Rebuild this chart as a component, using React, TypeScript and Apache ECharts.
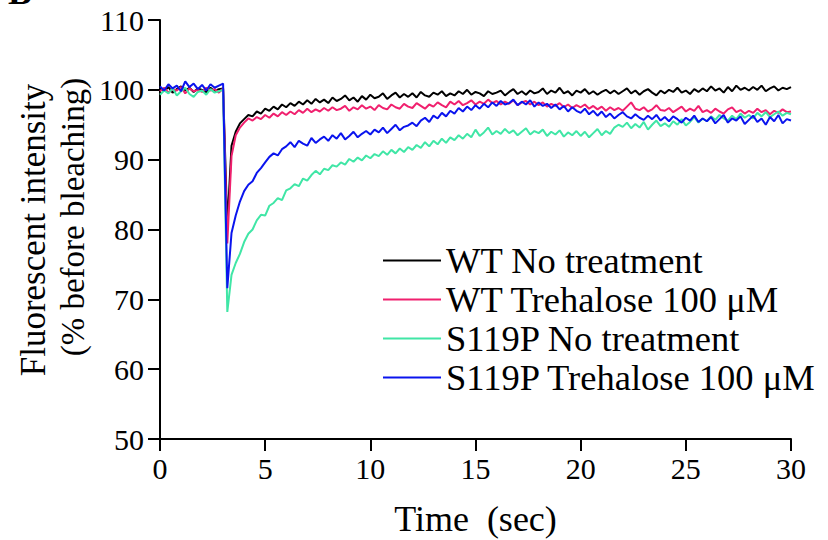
import React, { useEffect, useRef } from "react";
import * as echarts from "echarts";

const times = [
  0, 0.2, 0.4, 0.6, 0.8, 1, 1.2, 1.4, 1.6, 1.8,
  2, 2.2, 2.4, 2.6, 2.8, 3, 3.2, 3.4, 3.6, 3.8,
  4, 4.2, 4.4, 4.6, 4.8, 5, 5.2, 5.4, 5.6, 5.8,
  6, 6.2, 6.4, 6.6, 6.8, 7, 7.2, 7.4, 7.6, 7.8,
  8, 8.2, 8.4, 8.6, 8.8, 9, 9.2, 9.4, 9.6, 9.8,
  10, 10.2, 10.4, 10.6, 10.8, 11, 11.2, 11.4, 11.6, 11.8,
  12, 12.2, 12.4, 12.6, 12.8, 13, 13.2, 13.4, 13.6, 13.8,
  14, 14.2, 14.4, 14.6, 14.8, 15, 15.2, 15.4, 15.6, 15.8,
  16, 16.2, 16.4, 16.6, 16.8, 17, 17.2, 17.4, 17.6, 17.8,
  18, 18.2, 18.4, 18.6, 18.8, 19, 19.2, 19.4, 19.6, 19.8,
  20, 20.2, 20.4, 20.6, 20.8, 21, 21.2, 21.4, 21.6, 21.8,
  22, 22.2, 22.4, 22.6, 22.8, 23, 23.2, 23.4, 23.6, 23.8,
  24, 24.2, 24.4, 24.6, 24.8, 25, 25.2, 25.4, 25.6, 25.8,
  26, 26.2, 26.4, 26.6, 26.8, 27, 27.2, 27.4, 27.6, 27.8,
  28, 28.2, 28.4, 28.6, 28.8, 29, 29.2, 29.4, 29.6, 29.8, 30,
];

const wtNoTreatment = [
  100.2, 99.8, 100.4, 99.6, 100.1, 100.5, 99.9, 100.3, 99.7, 100.2,
  100.0, 99.6, 100.3, 99.8, 100.1, 100.2, 80.5, 92.0, 94.0, 95.2,
  95.8, 96.4, 96.2, 96.9, 96.6, 97.3, 97.0, 97.6, 97.2, 97.9,
  97.5, 98.1, 97.7, 98.3, 97.9, 98.5, 98.0, 98.7, 98.2, 98.6,
  98.1, 98.9, 98.4, 98.7, 99.2, 98.5, 98.9, 98.3, 99.1, 98.6,
  99.3, 98.8, 99.0, 99.5, 98.7, 99.2, 99.6, 98.9, 99.4, 99.0,
  99.5, 98.9, 99.7, 99.2, 99.0, 99.6, 99.3, 99.8, 99.1, 99.5,
  99.2, 99.8, 99.4, 100.0, 99.3, 99.7, 99.5, 99.1, 99.8, 99.4,
  99.6, 99.9, 99.2, 99.7, 100.1, 99.4, 99.8, 99.3, 99.9, 99.5,
  99.7, 100.2, 99.4, 99.9, 99.6, 100.3, 99.5, 99.8, 99.2, 99.9,
  99.6, 100.1, 99.4, 99.8, 99.3, 99.7, 100.0, 99.5, 99.9, 99.4,
  99.8, 100.2, 99.5, 99.9, 99.3, 99.8, 100.1, 99.6, 99.2, 99.9,
  99.5, 100.0, 99.7, 100.3, 99.6, 99.9, 99.4, 100.1, 99.7, 100.2,
  99.8, 100.5, 99.9, 100.2, 99.6, 100.4, 99.8, 100.6, 100.0, 100.3,
  99.9, 100.4, 100.0, 100.6, 99.8, 100.2, 100.5, 99.9, 100.3, 100.1, 100.4,
];

const wtTrehalose = [
  99.8, 100.3, 99.6, 100.1, 99.9, 100.4, 99.5, 100.2, 99.8, 100.0,
  99.7, 100.3, 99.9, 100.1, 99.6, 100.2, 78.0, 90.5, 93.5, 94.6,
  95.3, 95.9, 95.6, 96.1, 95.8, 96.4, 96.0, 96.6, 96.2, 96.8,
  96.4, 96.9, 96.5, 97.1, 96.7, 97.3, 96.8, 97.2, 96.9, 97.4,
  97.0, 97.5, 97.1, 97.3, 97.7, 97.0, 97.5, 97.2, 97.8, 97.3,
  97.6, 97.1, 97.8, 97.4, 97.2, 97.9, 97.5, 97.3, 98.0, 97.6,
  97.4, 98.1, 97.7, 97.3, 97.9, 97.6, 98.2, 97.8, 97.5, 98.3,
  97.9, 98.4, 97.8, 98.1, 98.5, 97.9, 98.3, 98.0, 98.6, 98.1,
  98.4, 97.9, 98.3, 98.0, 98.5, 97.8, 98.2, 98.4, 97.9, 98.3,
  97.8, 98.2, 97.6, 98.0, 97.7, 98.1, 97.5, 97.9, 97.4, 97.8,
  97.5, 97.9, 97.3, 97.7, 97.2, 97.6, 97.0, 97.5, 97.1, 97.4,
  97.0, 97.6, 98.2, 97.3, 97.1, 97.5, 96.9, 97.2, 97.8, 97.1,
  97.0, 97.4, 96.8, 97.2, 97.6, 96.9, 97.3, 97.0, 97.7, 96.8,
  97.1, 96.7, 97.3, 96.9, 96.6, 97.2, 97.5, 96.8, 97.1, 96.6,
  97.0, 96.7, 97.3, 96.8, 97.1, 96.5, 97.0, 96.7, 97.2, 96.8, 96.9,
];

const s119pNoTreatment = [
  99.3, 99.9, 99.5, 100.2, 99.2, 99.8, 100.3, 99.4, 99.0, 99.7,
  99.9, 99.3, 100.1, 99.6, 99.8, 100.0, 68.2, 73.5, 75.2, 76.5,
  78.2, 79.4, 80.0, 81.3, 82.1, 82.0, 83.4, 83.8, 84.5, 84.2,
  85.6, 85.9, 86.5, 86.2, 87.3, 87.0, 87.8, 88.4, 87.9, 88.7,
  88.5, 89.2, 89.0, 89.6, 89.3, 90.1, 89.7, 90.3, 89.9, 90.6,
  90.2, 90.8, 90.5, 91.2, 90.7, 91.4, 90.9, 91.6, 91.1, 91.8,
  91.4, 92.1, 91.7, 92.5, 91.9, 92.7, 92.2, 93.0, 92.4, 93.2,
  92.8, 93.5, 93.0, 93.7, 93.2, 94.3, 93.4, 93.9, 94.6, 93.6,
  94.1, 93.7, 94.4, 93.8, 94.2, 93.5, 94.0, 94.5, 93.6, 94.1,
  93.8, 94.3, 93.4, 94.0, 93.6, 94.2, 93.3, 93.9, 93.5, 94.1,
  93.4, 94.0, 93.2, 93.8, 94.4, 93.5, 94.1, 93.7, 94.6, 95.0,
  94.7, 95.3, 94.5, 95.1, 94.6, 95.4, 94.3, 95.0, 95.6, 94.8,
  95.2, 94.7, 95.5, 95.0, 95.8, 94.9, 95.4, 96.1, 95.3, 95.9,
  95.5, 96.2, 95.7, 96.4, 95.9, 95.6, 96.3, 95.8, 96.6, 96.0,
  96.4, 95.9, 96.7, 96.2, 96.8, 96.1, 96.5, 96.9, 96.3, 96.7, 96.5,
];

const s119pTrehalose = [
  100.5, 99.9, 100.8, 100.2, 100.6, 99.8, 101.2, 100.4, 100.9, 100.1,
  100.7, 99.9, 100.8, 100.3, 100.6, 100.9, 71.6, 79.5, 82.0, 84.0,
  85.5, 86.4, 86.9, 88.1, 88.8, 89.6, 90.4, 90.9, 90.6, 91.5,
  91.9, 92.5, 91.8, 92.7, 92.3, 92.0, 93.1, 92.4, 92.9, 93.3,
  92.7, 93.5, 93.0, 93.8, 92.9, 93.4, 94.0, 93.2, 93.7, 94.1,
  93.6, 94.3, 93.9, 94.6, 93.8, 94.4, 95.0, 94.2, 94.7, 94.9,
  95.3, 94.8, 95.6, 96.0, 95.4, 96.3, 95.9, 96.7, 96.2, 97.0,
  96.6, 97.4, 96.9, 97.6, 97.1, 97.8, 97.3, 98.0, 97.5, 98.2,
  97.7, 98.4, 97.9, 98.1, 98.6, 97.8, 98.3, 97.9, 98.5, 97.6,
  98.2, 97.7, 98.0, 97.4, 97.9, 97.2, 97.7, 96.9, 97.5, 97.0,
  96.7, 97.3, 96.5, 97.0, 96.3, 96.9, 96.1, 96.6, 95.9, 96.4,
  96.8, 96.2, 95.9, 96.5, 96.0, 95.7, 96.3, 95.8, 96.4, 95.6,
  96.1, 95.5, 96.2, 95.8, 95.3, 96.0, 95.6, 96.3, 95.4, 95.9,
  95.5, 96.1, 95.2, 95.8, 96.4, 95.3, 95.9, 95.6, 96.2, 95.1,
  95.7, 96.3, 95.4, 95.9, 95.0, 96.1, 95.5, 96.4, 95.2, 95.8, 95.6,
];

const seriesNames = [
  "WT No treatment",
  "WT Trehalose 100 μM",
  "S119P No treatment",
  "S119P Trehalose 100 μM",
];
const seriesColors = ["#000000", "#F0206E", "#40E6A6", "#0A14EE"];
const seriesValues = [wtNoTreatment, wtTrehalose, s119pNoTreatment, s119pTrehalose];

const xTicks = { min: 0, max: 30, interval: 5 };
const yTicks = { min: 50, max: 110, interval: 10 };

const FONT = "Liberation Serif";

export default function App() {
  const ref = useRef<HTMLDivElement>(null);
  useEffect(() => {
    if (!ref.current) return;
    const chart = echarts.init(ref.current, null, { renderer: "svg" });
    const series = seriesNames.map((name, k) => ({
      name,
      type: "line",
      data: times.map((t, i) => [t, seriesValues[k][i]]),
      showSymbol: false,
      symbol: "none",
      lineStyle: { color: seriesColors[k], width: 2 },
      itemStyle: { color: seriesColors[k] },
      z: 2 + k,
    }));
    chart.setOption({
      animation: false,
      backgroundColor: "#ffffff",
      textStyle: { fontFamily: FONT },
      grid: { left: 160, right: 37, top: 20, bottom: 101, containLabel: false, outerBoundsMode: "none" },
      xAxis: {
        type: "value",
        min: xTicks.min,
        max: xTicks.max,
        interval: xTicks.interval,
        name: "Time  (sec)",
        nameLocation: "middle",
        nameGap: 62,
        nameTextStyle: { fontFamily: FONT, fontSize: 36, color: "#000" },
        axisLine: { show: true, onZero: false, lineStyle: { color: "#000", width: 2 } },
        axisTick: { show: true, inside: false, length: 12, lineStyle: { color: "#000", width: 2 } },
        axisLabel: { fontFamily: FONT, fontSize: 30, color: "#000", margin: 14 },
        splitLine: { show: false },
      },
      yAxis: {
        type: "value",
        min: yTicks.min,
        max: yTicks.max,
        interval: yTicks.interval,
        axisLine: { show: true, onZero: false, lineStyle: { color: "#000", width: 2 } },
        axisTick: { show: true, inside: false, length: 12, lineStyle: { color: "#000", width: 2 } },
        axisLabel: { fontFamily: FONT, fontSize: 30, color: "#000", margin: 16 },
        splitLine: { show: false },
      },
      legend: {
        orient: "vertical",
        left: 383,
        top: 242,
        padding: 0,
        itemWidth: 58,
        itemHeight: 2,
        itemGap: 2,
        icon: "rect",
        data: seriesNames.map((n, k) => ({ name: n, itemStyle: { color: seriesColors[k] } })),
        textStyle: { fontFamily: FONT, fontSize: 36.5, color: "#000", lineHeight: 37 },
      },
      graphic: [
        {
          type: "text",
          x: 33,
          y: 230,
          rotation: Math.PI / 2,
          style: {
            text: "Fluorescent intensity",
            fontFamily: FONT,
            fontSize: 35,
            fill: "#000",
            align: "center",
            verticalAlign: "middle",
          },
        },
        {
          type: "text",
          x: 73,
          y: 217,
          rotation: Math.PI / 2,
          style: {
            text: "(% before bleaching)",
            fontFamily: FONT,
            fontSize: 33,
            fill: "#000",
            align: "center",
            verticalAlign: "middle",
          },
        },
        {
          type: "text",
          x: 8,
          y: 10,
          style: {
            text: "B",
            fontFamily: FONT,
            fontSize: 36,
            fontWeight: "bold",
            fill: "#000",
            align: "left",
            verticalAlign: "bottom",
          },
        },
      ],
      series,
    });
    return () => chart.dispose();
  }, []);
  return (
    <div
      ref={ref}
      style={{ position: "fixed", left: 0, top: 0, width: 828, height: 540, background: "#fff" }}
    />
  );
}
